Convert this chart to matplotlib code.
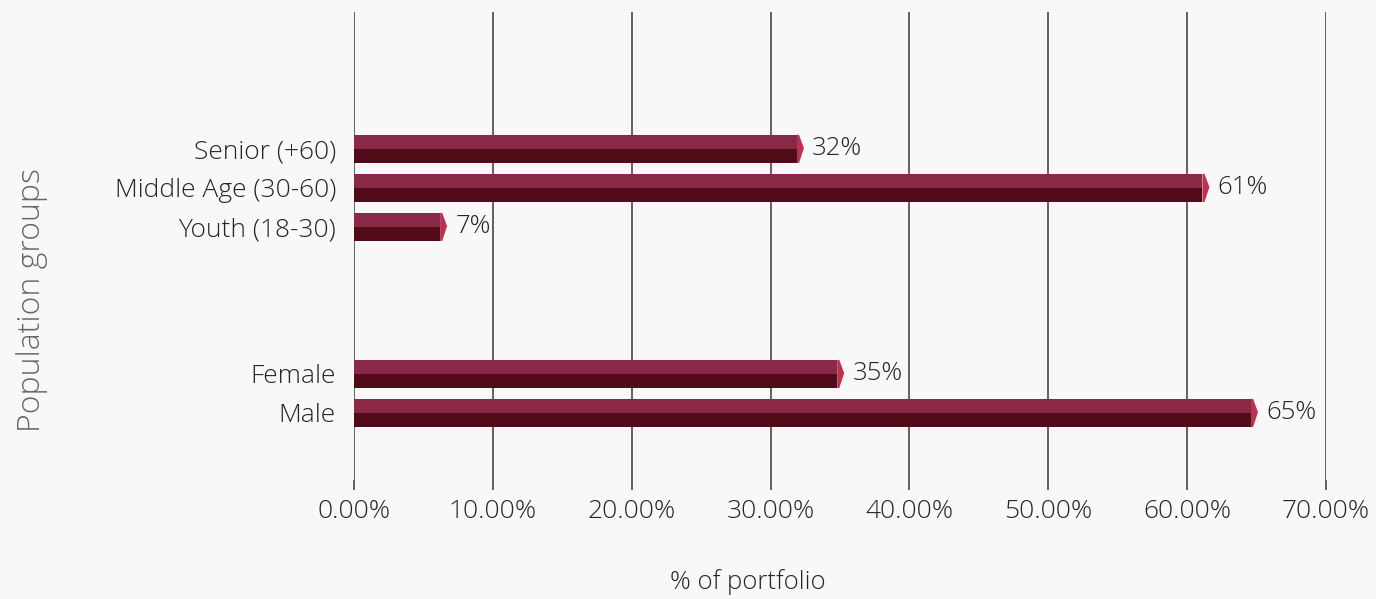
import matplotlib
matplotlib.use("Agg")
import matplotlib.pyplot as plt
from matplotlib.patches import Polygon
from matplotlib.ticker import FuncFormatter

plt.rcParams['font.family'] = ['Open Sans', 'DejaVu Sans']
plt.rcParams['font.weight'] = 'light'

categories = ["Male", "Female", "Youth (18-30)", "Middle Age (30-60)", "Senior (+60)"]
values = [64.6, 34.8, 6.2, 61.1, 31.9]
value_labels = ["65%", "35%", "7%", "61%", "32%"]
x_ticks = [0, 10, 20, 30, 40, 50, 60, 70]

# layout positions (two groups: gender, age)
positions = [0, 1, 4.77, 5.77, 6.77]

bg = "#F8F8F8"
light = "#8A2947"
dark = "#520B18"
cap = "#B8334F"
txt = "#262626"

fig = plt.figure(figsize=(13.76, 5.99), dpi=100, facecolor=bg)
ax = fig.add_axes([354/1376, 1-480/599, (1326-354)/1376, (480-12)/599])
ax.set_facecolor(bg)

h = 0.72
for y, v, lab in zip(positions, values, value_labels):
    ax.barh(y + h/4, v, height=h/2, color=light, zorder=3)
    ax.barh(y - h/4, v, height=h/2, color=dark, zorder=3)
    poly = Polygon([(v, y + h/2), (v + 0.15, y + h/2), (v + 0.5, y + 0.02),
                    (v + 0.15, y - h/2), (v, y - h/2)],
                   closed=True, facecolor=cap, edgecolor='none', zorder=4)
    ax.add_patch(poly)
    ax.text(v + 1.1, y, lab, va='center', ha='left', fontsize=18.5, color=txt)

ax.set_xlim(0, 70)
ax.set_ylim(-1.72, 10.28)
ax.set_xticks(x_ticks)
ax.xaxis.set_major_formatter(FuncFormatter(lambda x, p: f"{x:.2f}%"))
ax.set_yticks(positions)
ax.set_yticklabels(categories)
ax.grid(axis='x', color='#555555', linewidth=1.3, zorder=0)
ax.grid(axis='y', visible=False)
for s in ax.spines.values():
    s.set_visible(False)
ax.tick_params(axis='y', length=0, pad=13, labelsize=19, labelcolor=txt)
ax.tick_params(axis='x', length=7, width=1.3, color='#555555', pad=7, labelsize=19, labelcolor=txt)

fig.text(748/1376, 1-582/599, "% of portfolio", ha='center', va='center',
         fontsize=18.5, color=txt)
fig.text(32/1376, 1-300/599, "Population groups", rotation=90, ha='center', va='center',
         fontsize=23, color='#666666')

fig.savefig("out.png", dpi=100, facecolor=bg)
